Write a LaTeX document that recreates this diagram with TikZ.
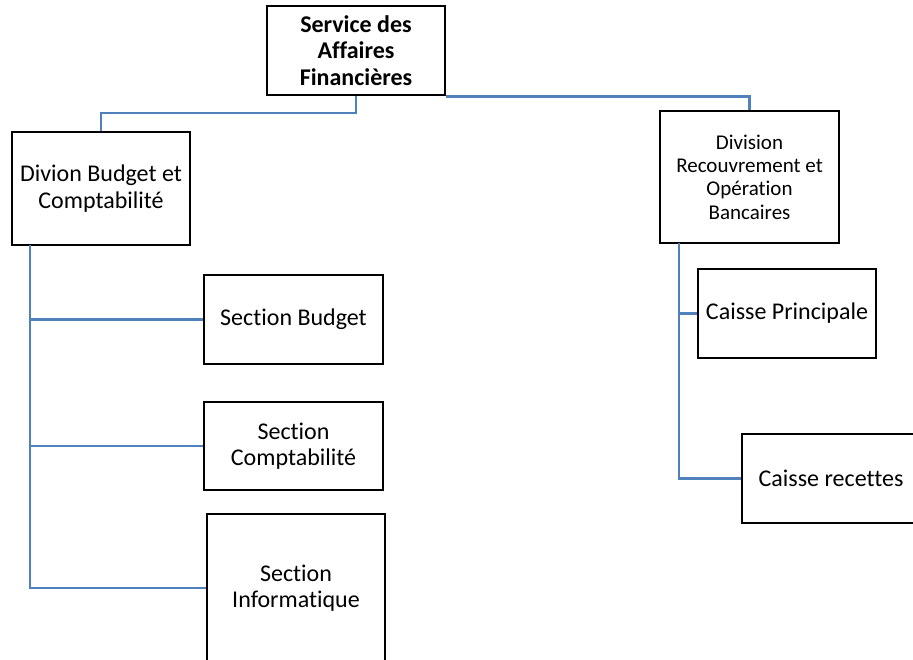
\documentclass[tikz,border=0pt]{standalone}
\usepackage{fontspec}
\setmainfont{Carlito}[Ligatures=NoCommon]
\usepackage{tikz}
\definecolor{linkblue}{HTML}{4F81BD}

\begin{document}
\begin{tikzpicture}[x=0.5pt, y=-0.5pt,
		box/.style={draw, rectangle, line width=1.4pt, align=center, inner sep=0pt,
			font=\fontsize{12}{13.3}\selectfont},
		link/.style={draw=linkblue, line width=1.3pt}]
				\useasboundingbox (0,0) rectangle (913,659);
				\clip (0,0) rectangle (913,659);
				\node[box, minimum width=89pt, minimum height=44.5pt, font=\bfseries\fontsize{12}{13.3}\selectfont] (svc)at(356, 50.5) {Service des\\Affaires\\Financières};
				\node[box, minimum width=89pt, minimum height=56.5pt] (divb)at(101, 188.5) {Divion Budget et\\Comptabilité};
				\node[box, minimum width=89.5pt, minimum height=66pt, font=\fontsize{10.5}{11.7}\selectfont] (divr)at(749.5, 177) {Division\\Recouvrement et\\Opération\\Bancaires};
				\node[box, minimum width=89.5pt, minimum height=44.5pt] (secb)at(293.5, 319.5) {Section Budget};
				\node[box, minimum width=89.5pt, minimum height=44pt] (secc)at(293.5, 446) {Section\\Comptabilité};
				\node[box, minimum width=89pt, minimum height=74pt] (seci)at(296, 588) {Section\\Informatique};
				\node[box, minimum width=89pt, minimum height=44.5pt] (caip)at(787, 313.5) {Caisse Principale};
				\node[box, minimum width=89pt, minimum height=44.5pt] (cair)at(831, 478.5) {Caisse recettes};
				\coordinate (j1)at(356, 113);
				\coordinate (ls)at(30, 245);
				\coordinate (rs)at(679, 243);
				\draw[link] (svc.south) -- (j1) -| (divb.north);
				\draw[link] (svc.south east) -| (divr.north);
				\draw[link] (ls) |- (seci.west);
				\draw[link] (ls |- secb.west) -- (secb.west);
				\draw[link] (ls |- secc.west) -- (secc.west);
				\draw[link] (rs) |- (cair.west);
				\draw[link] (rs |- caip.west) -- (caip.west);
			\end{tikzpicture}
\end{document}
